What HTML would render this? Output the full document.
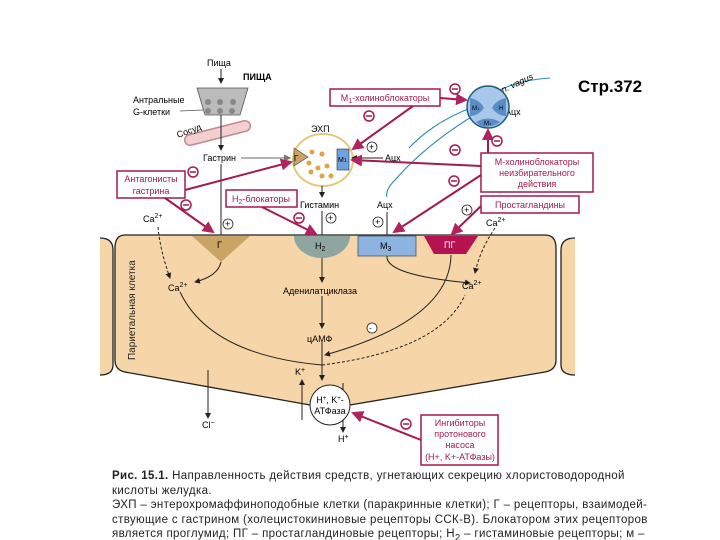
<!DOCTYPE html>
<html><head><meta charset="utf-8"><style>
body{margin:0;background:#fff;}
svg{display:block;font-family:"Liberation Sans",sans-serif;}
.cap{position:absolute;left:112px;top:469px;width:560px;font:11.5px/14.5px "Liberation Sans",sans-serif;letter-spacing:0.35px;color:#222;white-space:nowrap;}
</style></head><body>
<div style="position:relative;width:720px;height:540px;overflow:hidden">
<svg width="720" height="540" viewBox="0 0 720 540">
<defs>
<marker id="a" markerWidth="6" markerHeight="6" refX="5" refY="3" orient="auto"><path d="M0,0L6,3L0,6z" fill="#222"/></marker>
<marker id="p" markerWidth="6" markerHeight="6" refX="5" refY="3" orient="auto"><path d="M0,0L6,3L0,6z" fill="#b0235f"/></marker>
<marker id="g" markerWidth="6" markerHeight="6" refX="5" refY="3" orient="auto"><path d="M0,0L6,3L0,6z" fill="#777"/></marker>
</defs>
<path d="M100,238 Q113,238 113,250 L113,365 Q113,375 100,375" fill="#f6d5a8" stroke="#222" stroke-width="1.3"/>
<path d="M575,238 Q561,238 561,250 L561,365 Q561,375 575,375" fill="#f6d5a8" stroke="#222" stroke-width="1.3"/>
<path d="M125,235 L545,235 Q556,235 556,248 L556,360 Q556,370 545,372 L350,405 L310,405 L125,372 Q115,370 115,360 L115,248 Q115,235 125,235Z" fill="#f6d5a8" stroke="#222" stroke-width="1.3"/>
<text x="135" y="360" font-size="10" transform="rotate(-90 135 360)" fill="#222">Париетальная клетка</text>
<path d="M192,236 L250,236 L221,262Z" fill="#c9a465"/><text x="217" y="248" font-size="9">Г</text>
<path d="M294,236 A28,22 0 0 0 350,236Z" fill="#8fa5a0"/><text x="315" y="249" font-size="9">H<tspan font-size="7" dy="2">2</tspan></text>
<rect x="358" y="236" width="58" height="20" fill="#8db3e0" stroke="#456" stroke-width="0.8"/><text x="380" y="249" font-size="9">M<tspan font-size="7" dy="2">3</tspan></text>
<path d="M424,236 L478,236 L466,254 L434,254Z" fill="#b5124f"/><text x="444" y="248" font-size="9" fill="#fff">ПГ</text>
<g stroke="#222" fill="none" stroke-width="1">
<path d="M221,262 Q218,276 195,282" marker-end="url(#a)"/>
<path d="M158,227 Q160,250 170,278" stroke-dasharray="3,2" marker-end="url(#a)"/>
<path d="M322,258 L322,282" marker-end="url(#a)"/>
<path d="M322,296 L322,328" marker-end="url(#a)"/>
<path d="M387,256 Q385,275 470,283" marker-end="url(#a)"/>
<path d="M495,228 Q480,250 475,273" stroke-dasharray="3,2" marker-end="url(#a)"/>
<path d="M451,255 Q450,320 325,355" marker-end="url(#a)"/>
<path d="M180,292 Q210,355 322,365" />
<path d="M322,365 Q440,350 465,295" stroke-dasharray="3,2"/>
<path d="M322,342 L322,380" marker-end="url(#a)"/>
<path d="M208,370 L208,418" marker-end="url(#a)"/>
<path d="M302,420 L302,380" marker-end="url(#a)"/>
<path d="M343,383 L343,432" marker-end="url(#a)"/>
</g>
<text x="168" y="291" font-size="9">Ca<tspan font-size="7" dy="-4">2+</tspan></text>
<text x="462" y="289" font-size="9">Ca<tspan font-size="7" dy="-4">2+</tspan></text>
<text x="143" y="222" font-size="9">Ca<tspan font-size="7" dy="-4">2+</tspan></text>
<text x="486" y="226" font-size="9">Ca<tspan font-size="7" dy="-4">2+</tspan></text>
<text x="283" y="294" font-size="9">Аденилатциклаза</text>
<text x="307" y="342" font-size="9">цАМФ</text>
<text x="295" y="375" font-size="9">K<tspan font-size="7" dy="-3">+</tspan></text>
<text x="202" y="428" font-size="9">Cl<tspan font-size="7" dy="-3">−</tspan></text>
<text x="338" y="442" font-size="9">H<tspan font-size="7" dy="-3">+</tspan></text>
<circle cx="372" cy="328" r="5" fill="#fff" stroke="#222" stroke-width="0.8"/><text x="369" y="331" font-size="8">-</text>
<circle cx="330" cy="405" r="20" fill="#fff" stroke="#222"/>
<text x="330" y="403" font-size="9" text-anchor="middle">H<tspan font-size="6" dy="-3">+</tspan><tspan dy="3">, K</tspan><tspan font-size="6" dy="-3">+</tspan><tspan dy="3">-</tspan></text>
<text x="330" y="414" font-size="9" text-anchor="middle">АТФаза</text>
<text x="207" y="66" font-size="9">Пища</text>
<line x1="221" y1="69" x2="221" y2="83" stroke="#222" marker-end="url(#a)"/>
<text x="243" y="80" font-size="9" font-weight="bold">ПИЩА</text>
<path d="M197,88 L248,88 L240,115 L205,115Z" fill="#bbb" stroke="#555" stroke-width="0.8"/>
<g fill="#888"><circle cx="208" cy="102" r="3"/><circle cx="220" cy="102" r="3"/><circle cx="233" cy="102" r="3"/><circle cx="208" cy="111" r="3"/><circle cx="220" cy="111" r="3"/><circle cx="232" cy="111" r="3"/></g>
<text x="133" y="103" font-size="9">Антральные</text><text x="133" y="115" font-size="9">G-клетки</text>
<line x1="180" y1="111" x2="203" y2="110" stroke="#555" stroke-width="0.7"/>
<path d="M190,140 L245,126" stroke="#c4888c" stroke-width="12" stroke-linecap="round"/>
<path d="M190,140 L245,126" stroke="#f2d0d2" stroke-width="9" stroke-linecap="round"/>
<text x="178" y="138" font-size="9" transform="rotate(-20 178 138)">Сосуд</text>
<line x1="221" y1="115" x2="221" y2="150" stroke="#222" marker-end="url(#a)"/>
<text x="203" y="161" font-size="9">Гастрин</text>
<line x1="241" y1="158" x2="290" y2="158" stroke="#888" stroke-width="1.2" marker-end="url(#g)"/>
<line x1="221" y1="164" x2="221" y2="235" stroke="#222"/>
<text x="311" y="132" font-size="9">ЭХП</text>
<ellipse cx="323" cy="160" rx="30" ry="26" fill="#fff" stroke="#e3c87a" stroke-width="2"/>
<path d="M294,148 L308,157 L294,166Z" fill="#c9a465" stroke="#444" stroke-width="0.6"/><text x="294" y="161" font-size="8">Г</text>
<rect x="337" y="149" width="12" height="21" fill="#6fa2dc" stroke="#234" stroke-width="0.6"/><text x="338" y="162" font-size="7">M<tspan font-size="5">1</tspan></text>
<g fill="#e0a24a"><circle cx="312" cy="152" r="2.5"/><circle cx="322" cy="154" r="2.5"/><circle cx="309" cy="163" r="2.5"/><circle cx="318" cy="168" r="2.5"/><circle cx="327" cy="166" r="2.5"/><circle cx="311" cy="172" r="2.5"/><circle cx="322" cy="176" r="2.5"/><circle cx="331" cy="176" r="2.5"/></g>
<line x1="322" y1="186" x2="322" y2="197" stroke="#222" marker-end="url(#a)"/>
<text x="300" y="208" font-size="9">Гистамин</text>
<line x1="322" y1="211" x2="322" y2="235" stroke="#222"/>
<g font-size="9"><g fill="none" stroke="#222" stroke-width="0.8"><circle cx="228" cy="224" r="5"/><circle cx="331" cy="218" r="5"/><circle cx="378" cy="222" r="5"/><circle cx="372" cy="147" r="5"/><circle cx="467" cy="210" r="5"/></g>
<text x="225" y="227">+</text><text x="328" y="221">+</text><text x="375" y="225">+</text><text x="369" y="150">+</text><text x="464" y="213">+</text></g>
<line x1="383" y1="158" x2="352" y2="158" stroke="#222" marker-end="url(#a)"/>
<text x="385" y="161" font-size="9">Ацх</text>
<text x="377" y="208" font-size="9">Ацх</text>
<line x1="387" y1="212" x2="387" y2="235" stroke="#222"/>
<path d="M488,107 Q430,140 395,180 Q385,190 387,197" stroke="#2a8aa8" fill="none" stroke-width="1.1"/>
<path d="M495,100 Q440,115 409,148" stroke="#2a8aa8" fill="none" stroke-width="1.1"/>
<path d="M500,90 Q520,80 550,78" stroke="#2a8aa8" fill="none" stroke-width="1.1"/>
<text x="503" y="93" font-size="9" font-style="italic" transform="rotate(-25 503 93)">n. vagus</text>
<text x="505" y="115" font-size="9">Ацх</text>
<circle cx="488" cy="107" r="21" fill="#a9c7ea" stroke="#1f5f7a" stroke-width="1.5"/>
<path d="M470,98 Q480,100 484,108 Q478,116 470,116Z" fill="#5a8dc8"/><text x="472" y="110" font-size="6">M<tspan font-size="4">1</tspan></text>
<path d="M506,98 Q496,100 492,108 Q498,116 506,116Z" fill="#5a8dc8"/><text x="499" y="110" font-size="6">H</text>
<path d="M476,122 Q488,115 500,122 Q494,127 482,127Z" fill="#5a8dc8"/><text x="484" y="125" font-size="6">M<tspan font-size="4">1</tspan></text>
<text x="578" y="92" font-size="17" font-weight="bold">Стр.372</text>
<g fill="#fff" stroke="#a6184f" stroke-width="1.5">
<rect x="117" y="171" width="68" height="27"/><rect x="226" y="190" width="71" height="17"/>
<rect x="330" y="89" width="110" height="17"/><rect x="481" y="153" width="112" height="39"/>
<rect x="481" y="196" width="98" height="17"/><rect x="421" y="415" width="77" height="50"/>
</g>
<g fill="#a6184f" font-size="9" text-anchor="middle">
<text x="151" y="182">Антагонисты</text><text x="151" y="194">гастрина</text>
<text x="261" y="202">H<tspan font-size="7" dy="2">2</tspan><tspan dy="-2">-блокаторы</tspan></text>
<text x="385" y="101">M<tspan font-size="7" dy="2">1</tspan><tspan dy="-2">-холиноблокаторы</tspan></text>
<text x="537" y="165">М-холиноблокаторы</text><text x="537" y="176">неизбирательного</text><text x="537" y="187">действия</text>
<text x="530" y="208">Простагландины</text>
<text x="460" y="426">Ингибиторы</text><text x="460" y="437">протонового</text><text x="460" y="448">насоса</text><text x="460" y="460">(H+, K+-АТФазы)</text>
</g>
<g stroke="#a6184f" stroke-width="2" fill="none">
<path d="M185,190 L291,162" marker-end="url(#p)"/>
<path d="M165,198 L213,232" marker-end="url(#p)"/>
<path d="M262,207 L316,234" marker-end="url(#p)"/>
<path d="M413,106 L353,149" marker-end="url(#p)"/>
<path d="M440,98 L466,100" marker-end="url(#p)"/>
<path d="M488,153 L488,130" marker-end="url(#p)"/>
<path d="M481,166 L352,160" marker-end="url(#p)"/>
<path d="M481,175 L394,232" marker-end="url(#p)"/>
<path d="M481,206 L452,234" marker-end="url(#p)"/>
<path d="M421,440 L353,413" marker-end="url(#p)"/>
</g>
<g fill="#fff" stroke="#a6184f" stroke-width="1.5"><circle cx="193" cy="172" r="5"/><circle cx="186" cy="205" r="5"/><circle cx="299" cy="218" r="5"/><circle cx="369" cy="116" r="5"/><circle cx="455" cy="89" r="5"/><circle cx="497" cy="141" r="5"/><circle cx="455" cy="150" r="5"/><circle cx="454" cy="181" r="5"/><circle cx="406" cy="424" r="5"/></g>
<g stroke="#a6184f" stroke-width="1.5"><line x1="190" y1="172" x2="196" y2="172"/><line x1="183" y1="205" x2="189" y2="205"/><line x1="296" y1="218" x2="302" y2="218"/><line x1="366" y1="116" x2="372" y2="116"/><line x1="452" y1="89" x2="458" y2="89"/><line x1="494" y1="141" x2="500" y2="141"/><line x1="452" y1="150" x2="458" y2="150"/><line x1="451" y1="181" x2="457" y2="181"/><line x1="403" y1="424" x2="409" y2="424"/></g>
</svg>
<div class="cap"><b>Рис. 15.1.</b> Направленность действия средств, угнетающих секрецию хлористоводородной<br>кислоты желудка.<br>ЭХП – энтерохромаффиноподобные клетки (паракринные клетки); Г – рецепторы, взаимодей-<br>ствующие с гастрином (холецистокининовые рецепторы ССК-В). Блокатором этих рецепторов<br>является проглумид; ПГ – простагландиновые рецепторы; H<sub>2</sub> – гистаминовые рецепторы; м –</div>
</div>
</body></html>
